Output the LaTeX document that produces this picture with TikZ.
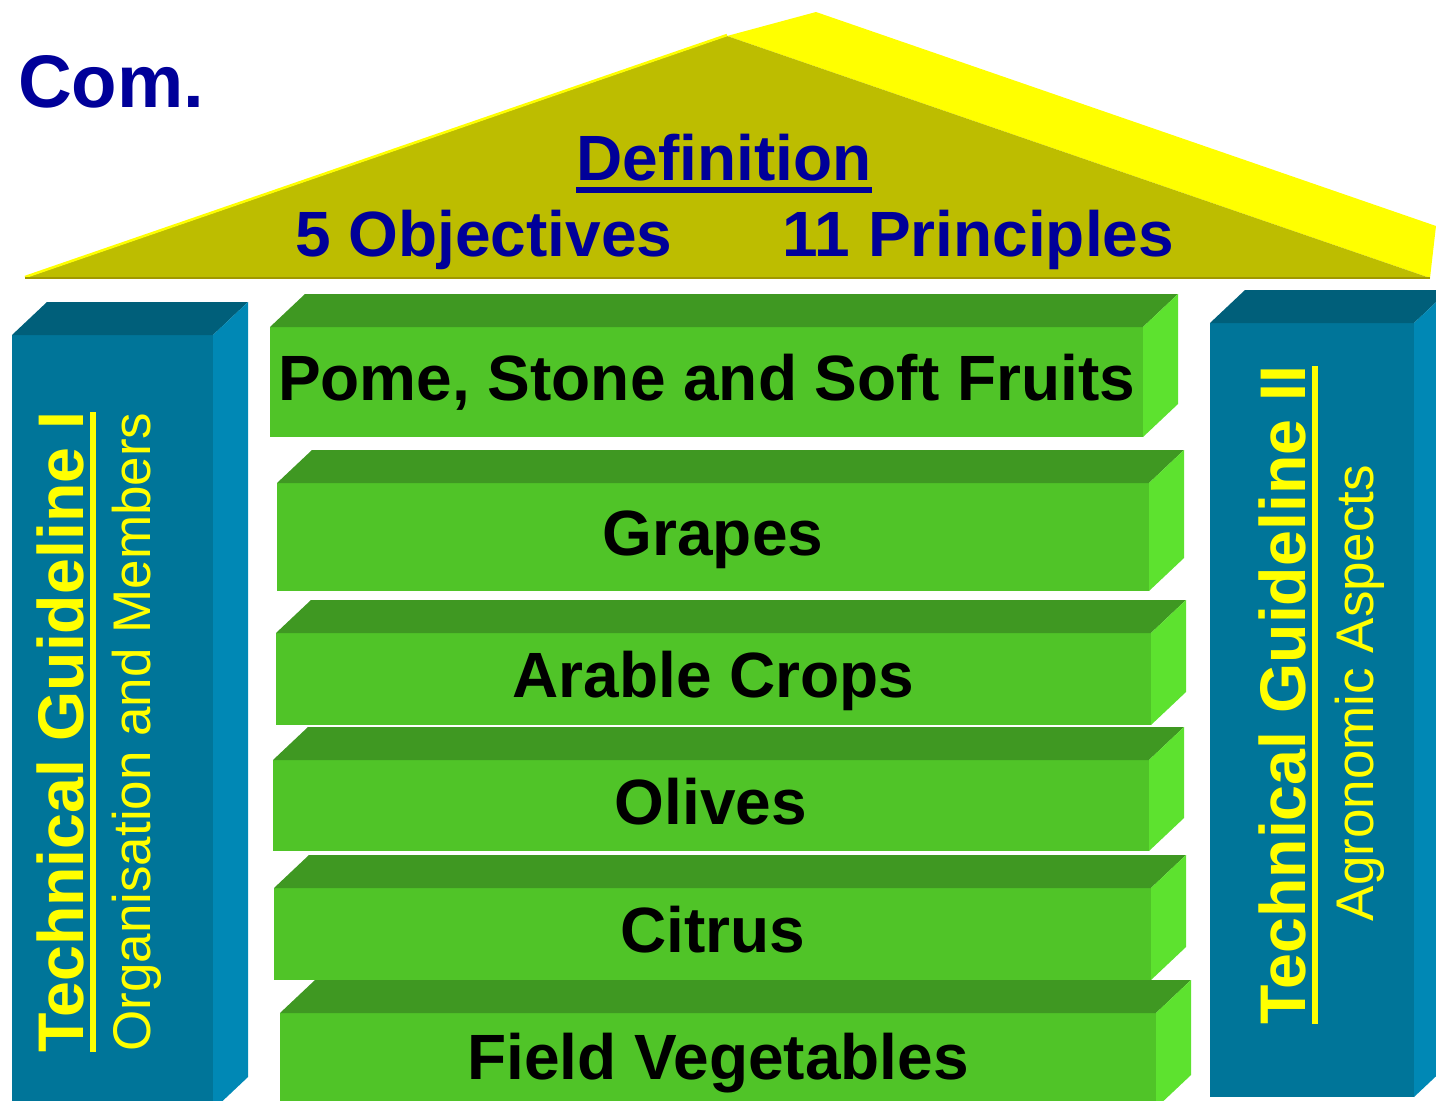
\documentclass[tikz,border=0pt]{standalone}
\usepackage{fontspec}
\setmainfont{Liberation Sans}
\usetikzlibrary{calc,positioning}
\definecolor{titleblue}{RGB}{0,0,153}
\definecolor{roofolive}{RGB}{189,189,0}
\definecolor{roofyellow}{RGB}{255,255,0}
\definecolor{roofedge}{RGB}{160,152,0}
\definecolor{pillarfront}{RGB}{0,117,153}
\definecolor{pillartop}{RGB}{0,95,122}
\definecolor{pillarside}{RGB}{0,136,181}
\definecolor{slabfront}{RGB}{80,196,40}
\definecolor{slabtop}{RGB}{63,152,34}
\definecolor{slabside}{RGB}{93,226,47}
\newcommand\thickul[1]{\setbox0\hbox{#1}\rlap{\rule[-13pt]{\wd0}{6pt}}\box0}
\tikzset{
    top face/.style={
        insert path={(#1.north west) -- ++(35,-33) -- ($(#1.north east)+(35,-33)$) -- (#1.north east) -- cycle}},
    side face/.style={
        insert path={(#1.north east) -- ++(35,-33) -- ($(#1.south east)+(35,-33)$) -- (#1.south east) -- cycle}},
    slab/.style={fill=slabfront, anchor=north west, outer sep=0pt, inner sep=0pt,
        font=\fontsize{64}{70}\selectfont\bfseries, text height=45pt, text depth=8pt},
    pillar/.style={fill=pillarfront, anchor=north west, outer sep=0pt, inner sep=0pt},
    roof text/.style={text=titleblue, inner sep=0pt, font=\fontsize{64}{70}\selectfont\bfseries},
    guide head/.style={text=roofyellow, rotate=90, anchor=base, inner sep=0pt,
        font=\fontsize{64.5}{70}\selectfont\bfseries},
    guide sub/.style={text=roofyellow, rotate=90, anchor=base, inner sep=0pt,
        font=\fontsize{53}{60}\selectfont}
}
\begin{document}
\begin{tikzpicture}[x=1pt,y=-1pt]
\useasboundingbox (0,0) rectangle (1436,1101);
\clip (0,0) rectangle (1436,1101);
% roof
\fill[roofyellow] (727,36) -- (816,12) -- (1436,226) -- (1430,278) -- cycle;
\fill[roofolive] (25,278) -- (727,36) -- (1430,278) -- cycle;
\draw[roofyellow, line width=2.5pt] (25,277) -- (727,35);
\draw[roofedge, line width=2pt] (25,278) -- (1430,278);
\node[roof text, anchor=base west, font=\fontsize{74.5}{80}\selectfont\bfseries] (com) at (18,107) {Com.};
\node[roof text, anchor=base] (defn) at (724,180) {\thickul{Definition}};
\node[roof text, anchor=base west] (obj) at (295,256) {5 Objectives};
\node[roof text, base right=110pt of obj] (princ) {11 Principles};
% pillars
\node[pillar, minimum width=201pt, minimum height=775pt] (tg1) at (12,335) {};
\fill[pillartop, top face=tg1];
\fill[pillarside, side face=tg1];
\node[pillar, minimum width=204pt, minimum height=774pt] (tg2) at (1210,323) {};
\fill[pillartop, top face=tg2];
\fill[pillarside, side face=tg2];
\node[guide head] (tg1head) at (83,732) {\thickul{Technical Guideline I}};
\node[guide sub] (tg1sub) at (150,732) {Organisation and Members};
\node[guide head] (tg2head) at (1305,695) {\thickul{Technical Guideline II}};
\node[guide sub] (tg2sub) at (1373,693) {Agronomic Aspects};
% crop slabs
\node[slab, minimum width=873pt, minimum height=110pt] (pome) at (270,327) {Pome, Stone and Soft Fruits};
\fill[slabtop, top face=pome];
\fill[slabside, side face=pome];
\node[slab, minimum width=872pt, minimum height=108pt] (grapes) at (277,483) {Grapes};
\fill[slabtop, top face=grapes];
\fill[slabside, side face=grapes];
\node[slab, minimum width=875pt, minimum height=92pt] (arable) at (276,633) {Arable Crops};
\fill[slabtop, top face=arable];
\fill[slabside, side face=arable];
\node[slab, minimum width=876pt, minimum height=91pt] (olives) at (273,760) {Olives};
\fill[slabtop, top face=olives];
\fill[slabside, side face=olives];
\node[slab, minimum width=877pt, minimum height=92pt] (citrus) at (274,888) {Citrus};
\fill[slabtop, top face=citrus];
\fill[slabside, side face=citrus];
\node[slab, minimum width=876pt, minimum height=95pt] (fieldveg) at (280,1013) {Field Vegetables};
\fill[slabtop, top face=fieldveg];
\fill[slabside, side face=fieldveg];
\end{tikzpicture}
\end{document}
